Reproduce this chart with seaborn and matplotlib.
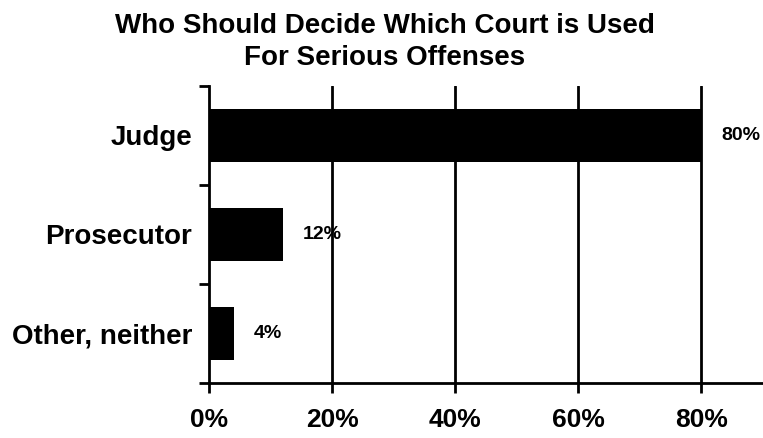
import matplotlib
matplotlib.use("Agg")
import matplotlib.pyplot as plt
import seaborn as sns
import pandas as pd

# Survey responses
categories = ["Judge", "Prosecutor", "Other, neither"]
percents = [80, 12, 4]
x_ticks = [0, 20, 40, 60, 80]
x_tick_labels = ["0%", "20%", "40%", "60%", "80%"]
title_lines = ["Who Should Decide Which Court is Used", "For Serious Offenses"]

sns.set_theme(style="ticks")
plt.rcParams["font.family"] = ["Liberation Sans", "DejaVu Sans"]
plt.rcParams["text.color"] = "black"
plt.rcParams["xtick.color"] = "black"
plt.rcParams["ytick.color"] = "black"
plt.rcParams["xtick.labelcolor"] = "black"
plt.rcParams["ytick.labelcolor"] = "black"

df = pd.DataFrame({"category": categories, "percent": percents})

fig = plt.figure(figsize=(7.63, 4.38), dpi=100)
ax = fig.add_axes([209 / 763, 1 - 383 / 438, 554 / 763, (383 - 86) / 438])

# vertical gridlines behind the bars
for t in x_ticks[1:]:
    ax.axvline(t, color="black", lw=2.0, zorder=0)

sns.barplot(data=df, x="percent", y="category", orient="h", color="black",
            width=0.54, saturation=1, linewidth=0, ax=ax, zorder=2)

ax.set_xlim(0, 90)
ax.set_ylim(2.5, -0.5)

for i, v in enumerate(percents):
    ax.text(v + 3.3, i, f"{v}%", va="center", ha="left", fontsize=14,
            fontweight="bold", color="black")

ax.set_xticks(x_ticks)
ax.set_xticklabels(x_tick_labels, fontsize=19, fontweight="bold")
ax.set_yticks([0, 1, 2])
ax.set_yticklabels(categories, fontsize=20, fontweight="bold")
ax.tick_params(axis="y", length=0, pad=12)
ax.tick_params(axis="x", length=7, width=2, pad=11)

# boundary ticks between categories on the left spine
ax.set_yticks([-0.5, 0.5, 1.5, 2.5], minor=True)
ax.tick_params(axis="y", which="minor", length=7, width=2)

ax.set_xlabel("")
ax.set_ylabel("")
for side in ["top", "right"]:
    ax.spines[side].set_visible(False)
for side in ["left", "bottom"]:
    ax.spines[side].set_linewidth(2)
    ax.spines[side].set_color("black")

for k, line in enumerate(title_lines):
    fig.text(385 / 763, 1 - (33 + 32 * k) / 438, line, ha="center",
             va="baseline", fontsize=20, fontweight="bold")

fig.savefig("out.png", dpi=100, facecolor="white")
